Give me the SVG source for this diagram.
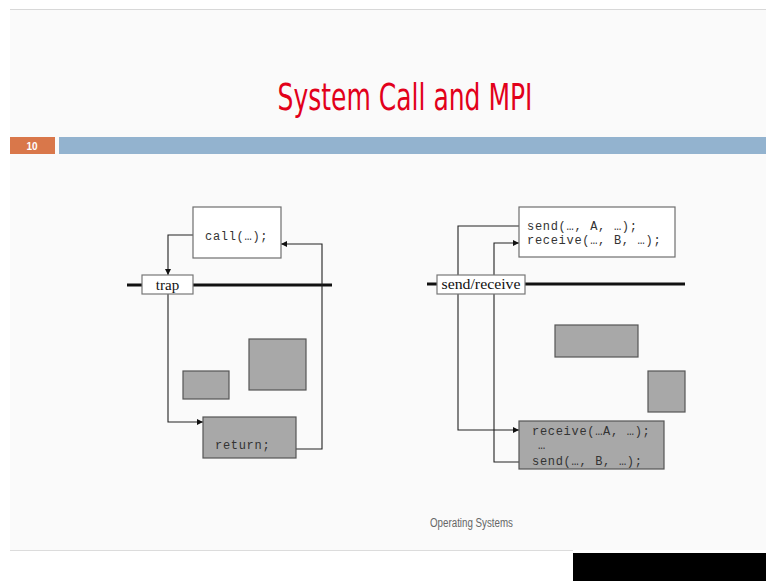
<svg xmlns="http://www.w3.org/2000/svg" width="766" height="581" viewBox="0 0 766 581">
<style>
.box{fill:#ffffff;stroke:#6e6e6e;stroke-width:1.2}
.gbox{fill:#a8a8a8;stroke:#555;stroke-width:1.2}
.lbl{fill:#ffffff;stroke:#777;stroke-width:1.2}
.code{font-family:"Liberation Mono","Courier New",monospace;font-size:12px;fill:#333;letter-spacing:0.7px}
.serif{font-family:"Liberation Serif","Times New Roman",serif;font-size:15px;fill:#111}
.wire{fill:none;stroke:#222;stroke-width:1.1}
.bar{stroke:#111;stroke-width:3}
</style>
<defs>
<marker id="ah" viewBox="0 0 10 10" refX="10" refY="5" markerWidth="6" markerHeight="6" orient="auto" markerUnits="userSpaceOnUse">
<path d="M0,0 L10,5 L0,10 z" fill="#111"/>
</marker>
</defs>
<rect x="0" y="0" width="766" height="581" fill="#ffffff"/>
<rect x="10" y="9" width="756" height="541" fill="#fafafa"/>
<line x1="10" y1="9.5" x2="766" y2="9.5" stroke="#d8d8d8" stroke-width="1"/>
<text x="405" y="110" text-anchor="middle" font-family="'Liberation Sans Narrow','DejaVu Sans Condensed','Liberation Sans',sans-serif" font-size="38" fill="#e2001a" textLength="255" lengthAdjust="spacingAndGlyphs">System Call and MPI</text>
<rect x="10" y="137" width="45" height="17" fill="#d9774a"/>
<text x="32" y="150" text-anchor="middle" font-family="'Liberation Sans Narrow','Liberation Sans',sans-serif" font-size="10" font-weight="bold" fill="#ffffff">10</text>
<rect x="59" y="137" width="707" height="17" fill="#93b3cf"/>

<g id="left-axis"><line class="bar" x1="127" y1="285" x2="332" y2="285"/></g>
<g id="right-axis"><line class="bar" x1="427" y1="284" x2="685" y2="284"/></g>

<g id="connectors">
<polyline class="wire" points="193,235 168,235 168,275" marker-end="url(#ah)"/>
<polyline class="wire" points="168,294 168,422 203,422" marker-end="url(#ah)"/>
<polyline class="wire" points="286,449 322,449 322,244 281,244" marker-end="url(#ah)"/>
<polyline class="wire" points="519,226 458,226 458,430 519,430" marker-end="url(#ah)"/>
<polyline class="wire" points="519,462 494,462 494,243 519,243" marker-end="url(#ah)"/>
</g>

<g id="call-box">
<rect class="box" x="193" y="207" width="88" height="51"/>
<text class="code" x="205" y="240">call(…);</text>
</g>
<g id="trap">
<rect class="lbl" x="142" y="275" width="51" height="19"/>
<text class="serif" x="167.5" y="290" text-anchor="middle">trap</text>
</g>
<g id="left-gray-1"><rect class="gbox" x="183" y="371" width="46" height="28"/></g>
<g id="left-gray-2"><rect class="gbox" x="249" y="339" width="57" height="51"/></g>
<g id="return-box">
<rect class="gbox" x="203" y="417" width="93" height="41"/>
<text class="code" x="215" y="449">return;</text>
</g>

<g id="send-box">
<rect class="box" x="519" y="207" width="156" height="50"/>
<text class="code" x="527" y="230">send(…, A, …);</text>
<text class="code" x="527" y="244">receive(…, B, …);</text>
</g>
<g id="send-receive">
<rect class="lbl" x="437" y="275" width="88" height="19"/>
<text class="serif" x="481" y="289" text-anchor="middle" textLength="79" lengthAdjust="spacingAndGlyphs">send/receive</text>
</g>
<g id="right-gray-1"><rect class="gbox" x="555" y="325" width="83" height="32"/></g>
<g id="right-gray-2"><rect class="gbox" x="648" y="371" width="37" height="41"/></g>
<g id="receive-box">
<rect class="gbox" x="519" y="421" width="145" height="48"/>
<text class="code" x="532" y="435">receive(…A, …);</text>
<text class="code" x="538" y="449">…</text>
<text class="code" x="532" y="465">send(…, B, …);</text>
</g>

<text x="471.5" y="527" text-anchor="middle" font-family="'Liberation Sans Narrow','Liberation Sans',sans-serif" font-size="12" fill="#666" textLength="83" lengthAdjust="spacingAndGlyphs">Operating Systems</text>
<line x1="10" y1="550.5" x2="573" y2="550.5" stroke="#dcdcdc" stroke-width="1"/>
<rect x="573" y="553" width="193" height="28" fill="#000"/>
</svg>
